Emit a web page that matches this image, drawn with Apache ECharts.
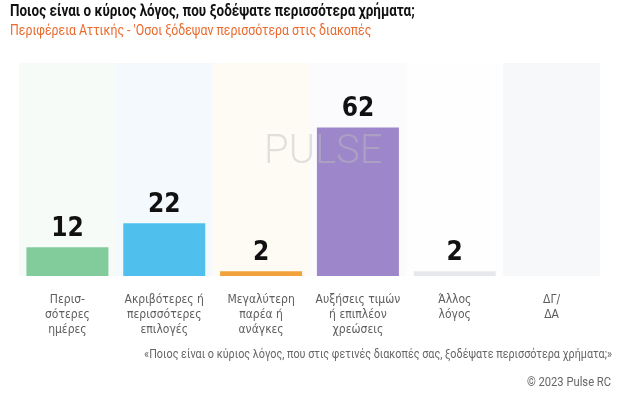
<!DOCTYPE html>
<html>
<head>
<meta charset="utf-8">
<script src="https://cdn.jsdelivr.net/npm/echarts@6/dist/echarts.min.js"></script>
<style>
  html, body { margin: 0; padding: 0; background: #fff; }
  #chart { width: 623px; height: 399px; }
</style>
</head>
<body>
<div id="chart"></div>
<script>
const categories = [
  'Περισ-\nσότερες\nημέρες',
  'Ακριβότερες ή\nπερισσότερες\nεπιλογές',
  'Μεγαλύτερη\nπαρέα ή\nανάγκες',
  'Αυξήσεις τιμών\nή επιπλέον\nχρεώσεις',
  'Άλλος\nλόγος',
  'ΔΓ/\nΔΑ'
]
const values = [12, 22, 2, 62, 2, 0]
const barColors = ['#82cc9c', '#4fc0ee', '#f2a23c', '#9d86c9', '#e6e8ee', '#e6e8ee']
const bgColors = ['#f6fbf7', '#f3f9fd', '#fefaf4', '#fbfafd', '#fefefe', '#f7f8fa']
const yMax = 89

const title = 'Ποιος είναι ο κύριος λόγος, που ξοδέψατε περισσότερα χρήματα;'
const subtitle = 'Περιφέρεια Αττικής - \'Οσοι ξόδεψαν περισσότερα στις διακοπές'
const question = '«Ποιος είναι ο κύριος λόγος, που στις φετινές διακοπές σας, ξοδέψατε περισσότερα χρήματα;»'
const credit = '© 2023 Pulse RC'

const narrow = '"DejaVu Sans Condensed", Roboto, sans-serif'

// condensed look: Roboto squeezed horizontally
function squeezed(text, x, y, font, fill, sx, align) {
  return {
    type: 'text', x: x, y: y, scaleX: sx, silent: true, z: 10,
    style: { text: text, font: font, fill: fill, textAlign: align || 'left', textVerticalAlign: 'top' }
  }
}

const chart = echarts.init(document.getElementById('chart'))
chart.setOption({
  animation: false,
  backgroundColor: '#fff',
  graphic: [
    squeezed(title, 10, 4, 'bold 16px Roboto', '#111', 0.84),
    squeezed(subtitle, 10, 24, '15px Roboto', '#ea6a2e', 0.82),
    squeezed(question, 612, 348, '13px Roboto', '#666', 0.83, 'right'),
    squeezed(credit, 611, 376, '13px Roboto', '#666', 0.86, 'right'),
    {
      type: 'text', x: 264, y: 133, silent: true, z: 5,
      style: { text: 'PULSE', font: '300 40px Roboto, sans-serif', fill: 'rgba(190,190,190,0.45)' }
    }
  ],
  grid: { left: 19, right: 23, top: 63, bottom: 123 },
  xAxis: [
    {
      type: 'category',
      data: categories,
      axisLine: { show: false },
      axisTick: { show: false },
      axisLabel: {
        interval: 0, margin: 16, lineHeight: 15,
        fontFamily: narrow, fontSize: 12, color: '#5e5e5e'
      }
    },
    { type: 'category', data: categories, show: false }
  ],
  yAxis: { type: 'value', min: 0, max: yMax, show: false, splitLine: { show: false } },
  series: [
    {
      type: 'bar',
      xAxisIndex: 1,
      silent: true,
      barWidth: '100%',
      z: 0,
      data: bgColors.map(c => ({ value: yMax, itemStyle: { color: c } }))
    },
    {
      type: 'bar',
      xAxisIndex: 0,
      barWidth: 82,
      z: 2,
      data: values.map((v, i) => ({ value: v, itemStyle: { color: barColors[i] } })),
      label: {
        show: true,
        position: 'top',
        distance: 5,
        formatter: p => (p.value ? p.value : ''),
        fontFamily: narrow,
        fontWeight: 'bold',
        fontSize: 26,
        color: '#111'
      }
    }
  ]
})
</script>
</body>
</html>
